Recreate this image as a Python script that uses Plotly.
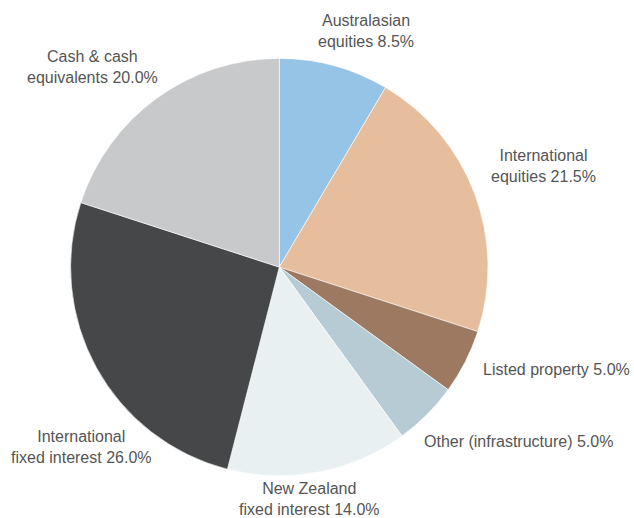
import plotly.graph_objects as go

labels = ["Australasian<br>equities", "International<br>equities", "Listed property",
          "Other (infrastructure)", "New Zealand<br>fixed interest",
          "International<br>fixed interest", "Cash & cash<br>equivalents"]
values = [8.5, 21.5, 5.0, 5.0, 14.0, 26.0, 20.0]
colors = ["#95c4e6", "#e6be9d", "#9e7961", "#b6cbd4", "#e8f0f2", "#464749", "#c8c9cb"]

W, H = 634, 518
CX, CY, R = 279.3, 267.1, 208.7

# label centre offsets from pie centre, in units of the radius (layout only)
label_offsets = [(0.414, -1.131), (1.268, -0.484), (1.329, 0.490), (1.148, 0.838),
                 (0.147, 1.112), (-0.950, 0.862), (-0.894, -0.959)]

fig = go.Figure(go.Pie(
    labels=labels, values=values, textinfo="none",
    sort=False, direction="clockwise", rotation=0,
    marker=dict(colors=colors, line=dict(color="white", width=0.6)),
    hoverinfo="label+value",
    domain=dict(x=[(CX - R) / W, (CX + R) / W], y=[1 - (CY + R) / H, 1 - (CY - R) / H]),
    showlegend=False,
))

for lab, val, (ox, oy) in zip(labels, values, label_offsets):
    px = CX + ox * R
    py = CY + oy * R
    fig.add_annotation(
        x=px / W, y=1 - py / H, xref="paper", yref="paper",
        text=f"{lab} {val:.1f}%", showarrow=False,
        xanchor="center", yanchor="middle", align="center",
        font=dict(family="Liberation Sans", size=16, color="#555555"),
    )

fig.update_layout(width=W, height=H, margin=dict(l=0, r=0, t=0, b=0),
                  paper_bgcolor="white", plot_bgcolor="white")
fig.write_html("out.html", config={"displayModeBar": False},
               post_script="document.body.style.margin='0';document.body.style.padding='0';")
